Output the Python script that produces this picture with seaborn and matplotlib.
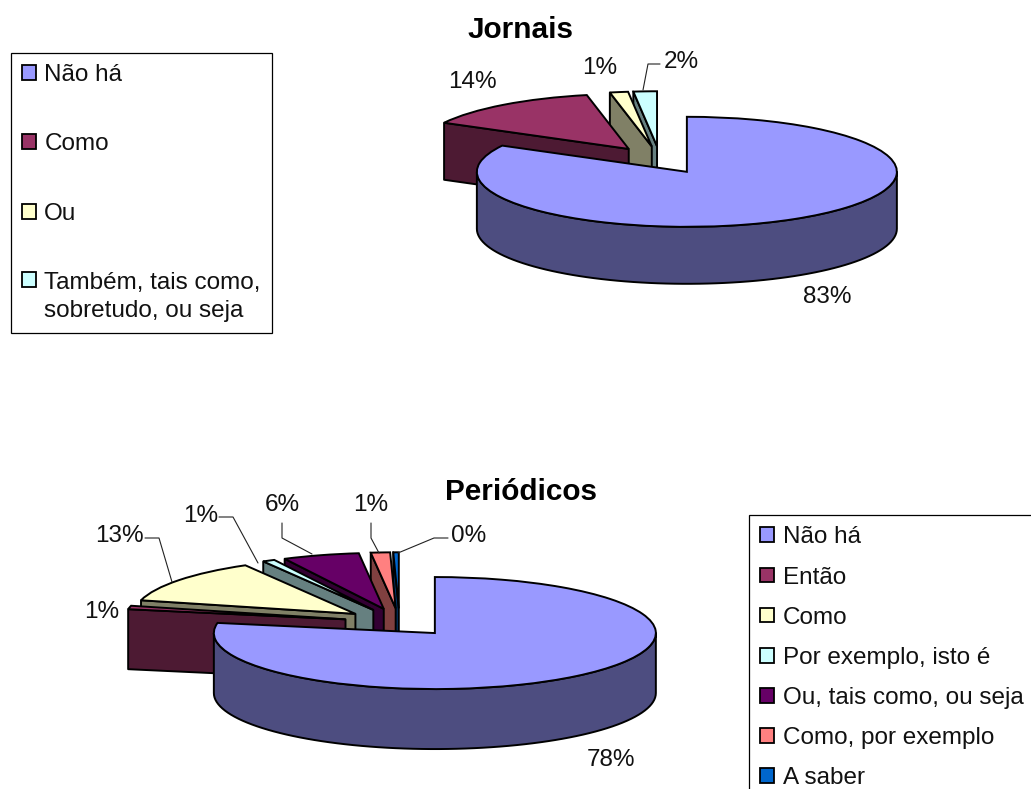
import numpy as np
import matplotlib
matplotlib.use("Agg")
import matplotlib.pyplot as plt
from matplotlib.colors import to_rgb
from matplotlib.patches import Patch, Polygon
import seaborn as sns

sns.set_theme(style="white")
plt.rcParams["font.family"] = ["Liberation Sans", "DejaVu Sans"]

W, H = 1031, 789

# Shares of each connective, in percent
jornais_labels = ["Não há", "Como", "Ou", "Também, tais como,\nsobretudo, ou seja"]
jornais_values = [82.9, 13.9, 1.4, 1.8]
jornais_colors = ["#9999FF", "#993366", "#FFFFCC", "#CCFFFF"]

periodicos_labels = ["Não há", "Então", "Como", "Por exemplo, isto é",
                     "Ou, tais como, ou seja", "Como, por exemplo", "A saber"]
periodicos_values = [77.9, 1.0, 12.8, 0.9, 5.6, 1.4, 0.4]
periodicos_colors = ["#9999FF", "#993366", "#FFFFCC", "#CCFFFF",
                     "#660066", "#FF8080", "#0066CC"]

EXPLODE = 0.25
EDGE = 1.4
TEXT = "#111111"
FS = 17.5

fig = plt.figure(figsize=(W / 100, H / 100), dpi=100, facecolor="white")

# Full-figure layer in pixel units for value labels and their leader lines
overlay = fig.add_axes([0, 0, 1, 1], zorder=5)
overlay.set_xlim(0, W)
overlay.set_ylim(H, 0)
overlay.axis("off")


def arc(center, a0, a1, drop):
    t = np.radians(np.linspace(a0, a1, 80))
    return np.column_stack([center[0] + np.cos(t), center[1] + np.sin(t) - drop])


def pie3d(values, colors, cx, cy, rx, ry, depth, box):
    """Exploded pie seen from above: one flat pie plus hand-built side walls."""
    left, top, right, bottom = box
    ax = fig.add_axes([left / W, 1 - bottom / H, (right - left) / W, (bottom - top) / H])
    wedges, _ = ax.pie(values, explode=[EXPLODE] * len(values), startangle=90,
                       counterclock=False, colors=colors,
                       wedgeprops=dict(edgecolor="black", linewidth=EDGE))
    ax.set_aspect("auto")
    ax.set_xlim((left - cx) / rx, (right - cx) / rx)
    ax.set_ylim((cy - bottom) / ry, (cy - top) / ry)
    drop = depth / ry

    # Painter's order: the last slice sits furthest back, the first in front
    for i, w in enumerate(wedges):
        z = 10 + 3 * (len(wedges) - i)
        w.set_zorder(z + 2)
        dark = tuple(c * 0.5 for c in to_rgb(colors[i]))
        c = np.array(w.center)
        faces = []
        for theta, visible in ((w.theta2, np.cos(np.radians(w.theta2)) < -1e-6),
                               (w.theta1, np.cos(np.radians(w.theta1)) > 1e-6)):
            if visible:
                rim = c + [np.cos(np.radians(theta)), np.sin(np.radians(theta))]
                faces.append([c, rim, rim - [0, drop], c - [0, drop]])
        lo, hi = max(w.theta1, -180), min(w.theta2, 0)
        if lo < hi:
            upper = arc(c, lo, hi, 0)
            faces.append(np.vstack([upper, arc(c, hi, lo, drop)]))
        for face in faces:
            ax.add_patch(Polygon(face, closed=True, facecolor=dark, edgecolor="black",
                                 linewidth=EDGE, joinstyle="round", zorder=z + 1))
    return ax


def value_labels(values, places):
    for v, (x, y) in zip(values, places):
        overlay.text(x, y, f"{v:.0f}%", ha="center", va="center", fontsize=FS, color=TEXT)


def leaders(paths):
    for path in paths:
        xs, ys = zip(*path)
        overlay.plot(xs, ys, color="#222222", lw=0.8)


def legend(labels, colors, x, y, spacing, pad):
    handles = [Patch(facecolor=c, edgecolor="black", linewidth=1.3) for c in colors]
    lg = fig.legend(handles, labels, loc="upper left", bbox_to_anchor=(x / W, 1 - y / H),
                    borderaxespad=0, fontsize=FS, labelspacing=spacing, borderpad=pad,
                    handlelength=0.56, handleheight=0.56, handletextpad=0.36,
                    fancybox=False, framealpha=1, edgecolor="black", labelcolor=TEXT)
    lg.get_frame().set_linewidth(0.9)
    for text, handle in zip(lg.get_texts(), lg.legend_handles):
        if "\n" in text.get_text():
            # Two-line entry: keep the swatch beside its first line
            text.set_linespacing(1.36)
            handle.set_y(handle.get_y() + 12.5)
    return lg


ax1 = pie3d(jornais_values, jornais_colors, 660, 160, 210, 55, 57, (400, 40, 930, 310))
ax2 = pie3d(periodicos_values, periodicos_colors, 399.5, 622.3, 221, 56, 60, (90, 520, 700, 780))

overlay.text(521, 30, "Jornais", ha="center", va="center", fontsize=21.4, fontweight="bold", color="black")
overlay.text(521, 492, "Periódicos", ha="center", va="center", fontsize=21.4, fontweight="bold", color="black")

value_labels(jornais_values, [(827, 296.5), (472, 81.5), (600, 67.5), (681, 61.5)])
value_labels(periodicos_values, [(611, 760.5), (102, 612.5), (119, 536.5), (201, 516.5),
                                 (282, 504.5), (371, 504.5), (469, 536.5)])
leaders([[(660, 64), (648, 64), (643, 90)]])
leaders([[(145, 538), (159, 538), (172, 582)],
         [(219, 517), (233, 517), (258, 563)],
         [(282, 523), (282, 538), (312, 554)],
         [(371, 523), (371, 538), (379, 553)],
         [(448, 538), (434, 538), (398, 553)]])

legend(jornais_labels, jornais_colors, 11, 53, 1.95, 0.45)
legend(periodicos_labels, periodicos_colors, 749, 515, 0.745, 0.47)

fig.savefig("out.png", dpi=100)
